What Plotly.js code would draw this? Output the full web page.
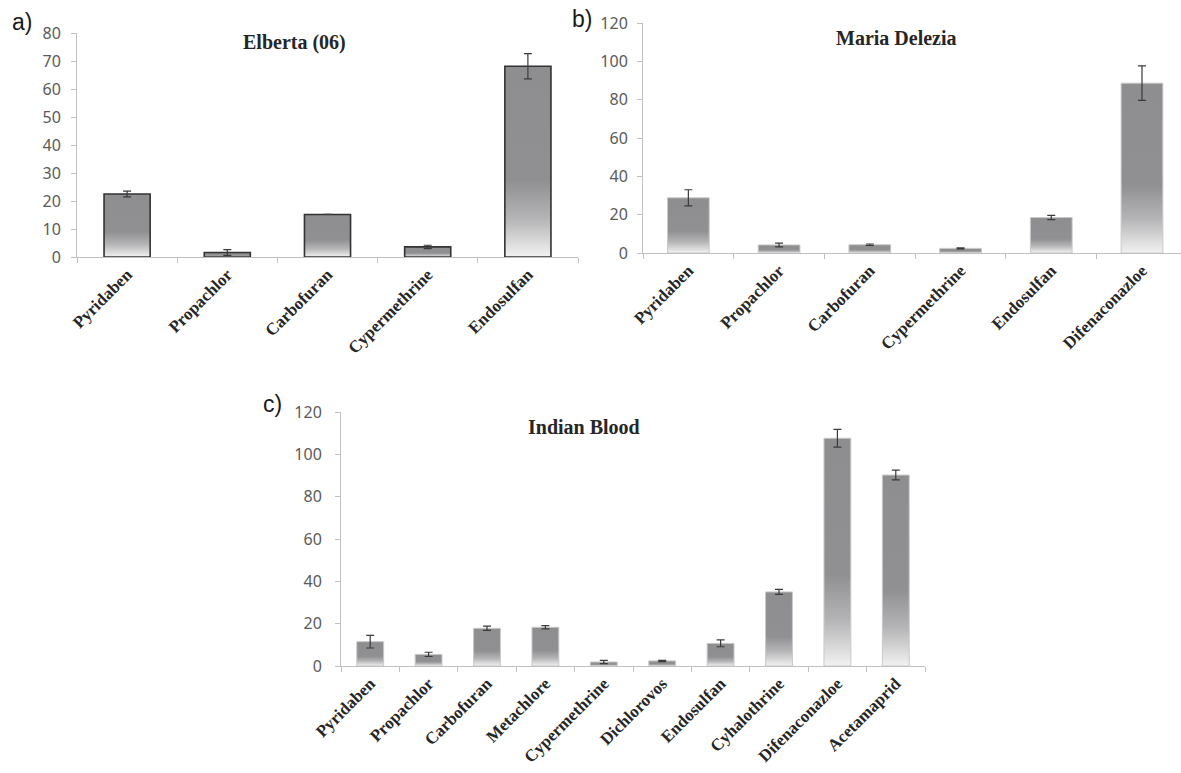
<!DOCTYPE html>
<html>
<head>
<meta charset="utf-8">
<script src="https://cdn.plot.ly/plotly-3.0.1.min.js"></script>
<style>
  html, body { margin: 0; padding: 0; background: #ffffff; }
  #chart { width: 1181px; height: 773px; }
</style>
</head>
<body>
<div id="chart"></div>
<script>
// ---- Data ----
const categoriesA = ['Pyridaben', 'Propachlor', 'Carbofuran', 'Cypermethrine', 'Endosulfan'];
const valuesA = [22.5, 1.6, 15.2, 3.6, 68.1];
const errorsA = [1.0, 1.0, 0, 0.6, 4.5];

const categoriesB = ['Pyridaben', 'Propachlor', 'Carbofuran', 'Cypermethrine', 'Endosulfan', 'Difenaconazloe'];
const valuesB = [28.8, 4.2, 4.3, 2.4, 18.5, 88.6];
const errorsB = [4.2, 1.0, 0.4, 0.3, 1.1, 9.0];

const categoriesC = ['Pyridaben', 'Propachlor', 'Carbofuran', 'Metachlore', 'Cypermethrine', 'Dichlorovos', 'Endosulfan', 'Cyhalothrine', 'Difenaconazloe', 'Acetamaprid'];
const valuesC = [11.5, 5.5, 17.8, 18.3, 1.9, 2.4, 10.7, 35.0, 107.6, 90.2];
const errorsC = [3.0, 1.0, 1.0, 0.8, 0.8, 0.3, 1.6, 1.2, 4.2, 2.3];

const titles = ['Elberta (06)', 'Maria Delezia', 'Indian Blood'];
const panelLabels = ['a)', 'b)', 'c)'];

// ---- Styling helpers ----
const W = 1181, H = 773;
const px = v => v / W;
const py = v => 1 - v / H;

function barTrace(cats, vals, errs, xa, ya, lineColor, lineWidth) {
  return {
    type: 'bar',
    x: cats, y: vals,
    xaxis: xa, yaxis: ya,
    marker: { color: '#8e8e90', line: { color: lineColor, width: lineWidth } },
    error_y: { type: 'data', array: errs, visible: true, color: '#3a3a3a', thickness: 1.2, width: 4 },
    hoverinfo: 'none',
    showlegend: false
  };
}

const data = [
  barTrace(categoriesA, valuesA, errorsA, 'x', 'y', '#333333', 1.6),
  barTrace(categoriesB, valuesB, errorsB, 'x2', 'y2', '#c9c9c9', 1),
  barTrace(categoriesC, valuesC, errorsC, 'x3', 'y3', '#c9c9c9', 1)
];

const tickFont = { family: '"Noto Sans", "Liberation Sans", sans-serif', size: 16, color: '#5a5a5a' };
const catFont = { family: '"Liberation Serif", "DejaVu Serif", serif', size: 17, color: '#262626', weight: 'bold' };

function xAxis(domain, range, anchor) {
  return {
    domain: domain, anchor: anchor, type: 'category', range: range,
    showline: true, linecolor: '#c0c0c0', linewidth: 1,
    ticks: 'outside', tickson: 'boundaries', ticklen: 5, tickcolor: '#c0c0c0',
    tickangle: -45, tickfont: catFont, showgrid: false, zeroline: false,
    fixedrange: true
  };
}
function yAxis(domain, range, dtick, anchor, standoff) {
  return {
    domain: domain, anchor: anchor, range: range, dtick: dtick,
    showline: true, linecolor: '#c0c0c0', linewidth: 1,
    ticks: 'outside', ticklen: 5, tickcolor: '#c0c0c0',
    tickfont: tickFont, showgrid: false, zeroline: false,
    ticklabelstandoff: standoff, fixedrange: true
  };
}

function textAnn(text, x, y, font) {
  return { text: text, xref: 'paper', yref: 'paper', x: px(x), y: py(y),
           xanchor: 'center', yanchor: 'middle', showarrow: false, font: font };
}
const titleFont = { family: '"Liberation Serif", "DejaVu Serif", serif', size: 20, color: '#262626', weight: 'bold' };
const labelFont = { family: '"Liberation Sans", Arial, sans-serif', size: 23, color: '#1a1a1a' };

const layout = {
  width: W, height: H,
  margin: { l: 0, r: 0, t: 0, b: 0 },
  paper_bgcolor: '#ffffff', plot_bgcolor: 'rgba(0,0,0,0)',
  bargap: 0.54,
  xaxis: xAxis([px(77), px(578)], [-0.5, 4.5], 'y'),
  yaxis: yAxis([py(257), py(33)], [0, 80], 10, 'x', 7),
  xaxis2: xAxis([px(643), 1], [-0.5, 5.43], 'y2'),
  yaxis2: yAxis([py(253), py(23)], [0, 120], 20, 'x2', 6),
  xaxis3: xAxis([px(341), px(925)], [-0.5, 9.5], 'y3'),
  yaxis3: yAxis([py(666), py(412)], [0, 120], 20, 'x3', 10),
  annotations: [
    textAnn(titles[0], 294, 43, titleFont),
    textAnn(titles[1], 896, 38, titleFont),
    textAnn(titles[2], 584, 427, titleFont),
    textAnn(panelLabels[0], 22, 22, labelFont),
    textAnn(panelLabels[1], 582, 19, labelFont),
    textAnn(panelLabels[2], 272, 404, labelFont)
  ]
};

function applyGradient(gd) {
  const ns = 'http://www.w3.org/2000/svg';
  const svg = gd.querySelector('svg.main-svg');
  let defs = svg.querySelector('defs');
  if (!defs) { defs = document.createElementNS(ns, 'defs'); svg.insertBefore(defs, svg.firstChild); }
  if (!svg.querySelector('#barGrad')) {
    const g = document.createElementNS(ns, 'linearGradient');
    g.setAttribute('id', 'barGrad');
    g.setAttribute('x1', '0'); g.setAttribute('y1', '0');
    g.setAttribute('x2', '0'); g.setAttribute('y2', '1');
    [[0, '#8e8e90'], [0.6, '#909092'], [0.8, '#b5b5b7'], [1, '#f2f2f2']].forEach(s => {
      const st = document.createElementNS(ns, 'stop');
      st.setAttribute('offset', s[0]);
      st.setAttribute('stop-color', s[1]);
      g.appendChild(st);
    });
    defs.appendChild(g);
  }
  gd.querySelectorAll('.barlayer .point path').forEach(p => { p.style.fill = 'url(#barGrad)'; });
}

Plotly.newPlot('chart', data, layout, { staticPlot: true, displayModeBar: false }).then(gd => {
  applyGradient(gd);
});
</script>
</body>
</html>
